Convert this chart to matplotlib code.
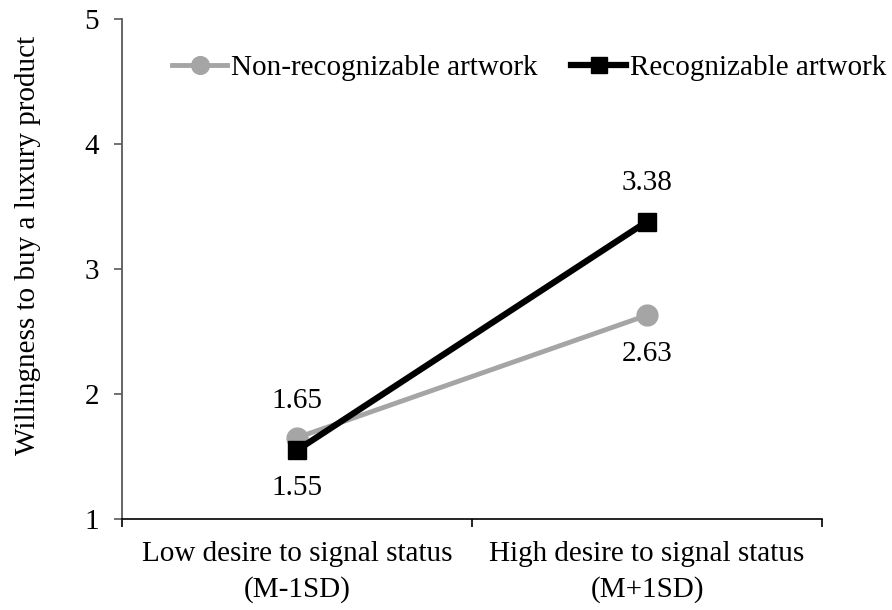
import matplotlib
matplotlib.use("Agg")
import matplotlib.pyplot as plt
from matplotlib.ticker import FixedLocator

categories = ["Low desire to signal status\n(M-1SD)", "High desire to signal status\n(M+1SD)"]
non_recog = [1.65, 2.63]
recog = [1.55, 3.38]
series_names = ["Non-recognizable artwork", "Recognizable artwork"]
yticks = [1, 2, 3, 4, 5]

plt.rcParams['font.family'] = ['Liberation Serif', 'DejaVu Serif']
fs = 21

fig = plt.figure(figsize=(8.92, 6.10), dpi=100)
ax = fig.add_axes([122/892, (610-519)/610, (822-122)/892, (519-19)/610])

xpos = [0.5, 1.5]
ax.plot(xpos, non_recog, color='#A5A5A5', lw=3.5, marker='o', ms=15, label=series_names[0], zorder=2)
ax.plot(xpos, recog, color='black', lw=4.5, marker='s', ms=13.5, label=series_names[1], zorder=3)

ax.set_xlim(0, 2)
ax.set_ylim(1, 5)
ax.set_yticks(yticks)
ax.set_yticklabels([str(v) for v in yticks], fontsize=fs)
ax.xaxis.set_major_locator(FixedLocator([0, 1, 2]))
ax.set_xticklabels([])
ax.xaxis.set_minor_locator(FixedLocator(xpos))
ax.set_xticklabels(categories, minor=True, fontsize=fs, linespacing=1.45)
ax.tick_params(axis='x', which='minor', length=0, pad=15.5)
ax.tick_params(axis='x', which='major', length=6, width=1.2, color='black', direction='out')
ax.tick_params(axis='y', length=5.5, width=1.2, color='#595959', direction='out', pad=11)

for s in ['top', 'right']:
    ax.spines[s].set_visible(False)
ax.spines['left'].set_color('#595959')
ax.spines['left'].set_linewidth(1.3)
ax.spines['bottom'].set_color('black')
ax.spines['bottom'].set_linewidth(1.2)

ax.set_ylabel("Willingness to buy a luxury product", fontsize=fs)
ax.yaxis.set_label_coords((41-122)/700, (519-245)/500)

# data labels: (dx, dy) offsets in pixels from the point to the label baseline
offs_nr = [(0, 30), (0, -46)]
offs_r = [(0, -45), (0, 32)]
for x, v, o in zip(xpos, non_recog, offs_nr):
    ax.annotate(f"{v:.2f}", (x, v), xytext=o, textcoords='offset pixels', ha='center', va='baseline', fontsize=fs)
for x, v, o in zip(xpos, recog, offs_r):
    ax.annotate(f"{v:.2f}", (x, v), xytext=o, textcoords='offset pixels', ha='center', va='baseline', fontsize=fs)

leg = ax.legend(loc='center left', bbox_to_anchor=(172/892, (610-68)/610), bbox_transform=fig.transFigure,
                ncol=2, frameon=False, fontsize=fs, handlelength=1.9, handletextpad=0.12,
                columnspacing=1.15, borderpad=0, borderaxespad=0, markerscale=0.85)

fig.savefig("out.png", dpi=100)
